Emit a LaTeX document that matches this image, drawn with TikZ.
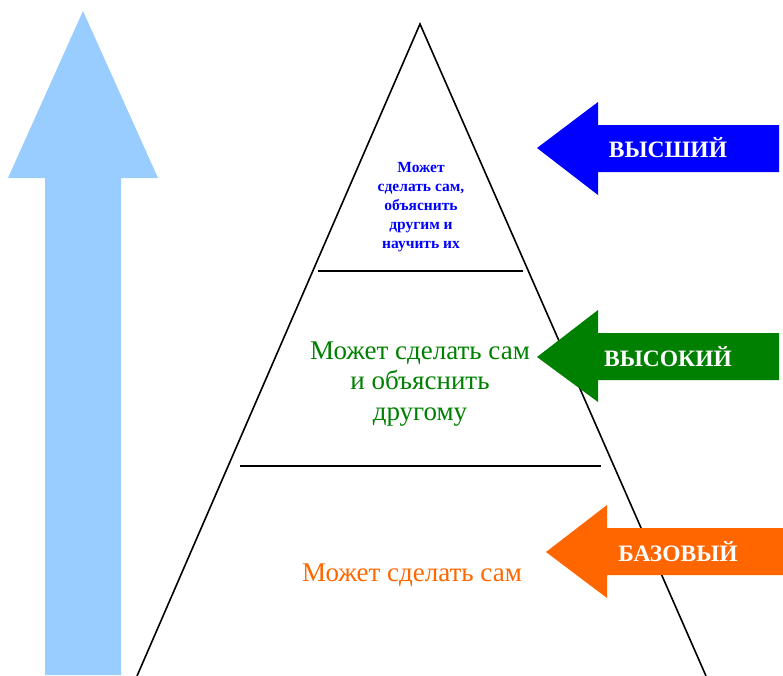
\documentclass[tikz,border=0pt]{standalone}
\usepackage{fontspec}
\setmainfont{Liberation Serif}
\definecolor{skyup}{HTML}{99CCFF}
\definecolor{hiblue}{HTML}{0000FF}
\definecolor{midgreen}{HTML}{008000}
\definecolor{baseorange}{HTML}{FF6600}
\begin{document}
\begin{tikzpicture}[x=1pt,y=-1pt,
  lvl/.style={text=white,font=\bfseries\fontsize{23.5}{23.5}\selectfont},
  say/.style={align=center,inner sep=0pt}]
  \useasboundingbox (0,0) rectangle (783,675);
  % big arrow on the left
  \fill[skyup] (45,675) -- (45,178) -- (8,178) -- (83,11)
       -- (158,178) -- (121,178) -- (121,675) -- cycle;
  % pyramid
  \coordinate (apex) at (420,24);
  \draw[line width=1.6pt] (137,676) -- (apex) -- (706,676);
  \draw[line width=1.4pt] (318,271) -- (523,271);
  \draw[line width=1.4pt] (240,466) -- (601,466);
  % texts inside
  \node[say,text=hiblue,
       font=\bfseries\fontsize{15.5}{18.8}\selectfont]
       (t1) at (421,207) {Может\\сделать сам,\\объяснить\\другим и\\научить их};
  \node[say,text=midgreen,font=\fontsize{27}{30.5}\selectfont]
       (t2) at (420,384) {Может сделать сам\\и объяснить\\другому};
  \node[say,text=baseorange,font=\fontsize{27}{30}\selectfont]
       (t3) at (412,575) {Может сделать сам};
  % arrows on the right
  \fill[hiblue] (537,148) -- (598,102) -- (598,125) -- (779,125)
       -- (779,172) -- (598,172) -- (598,195) -- cycle;
  \node[lvl] (a1) at (668,148) {ВЫСШИЙ};
  \fill[midgreen] (537,357) -- (598,310) -- (598,333) -- (779,333)
       -- (779,380) -- (598,380) -- (598,402) -- cycle;
  \node[lvl] (a2) at (668,357) {ВЫСОКИЙ};
  \fill[baseorange] (546,552) -- (607,505) -- (607,528) -- (790,528)
       -- (790,575) -- (607,575) -- (607,598) -- cycle;
  \node[lvl] (a3) at (678,552) {БАЗОВЫЙ};
\end{tikzpicture}
\end{document}
